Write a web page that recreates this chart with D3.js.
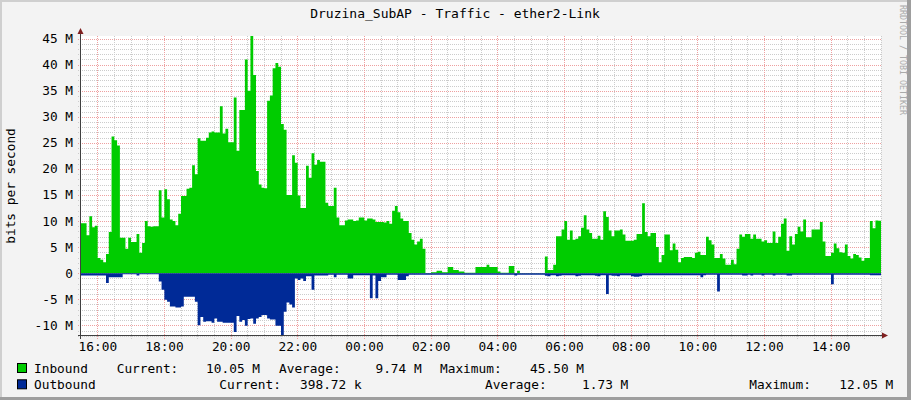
<!DOCTYPE html>
<html><head><meta charset="utf-8">
<script src="https://cdn.jsdelivr.net/npm/d3@7"></script>
<style>
html,body{margin:0;padding:0;background:#f3f3f3;}
text{font-family:"DejaVu Sans Mono",monospace;}
</style></head>
<body>
<svg id="c" width="911" height="400"></svg>
<script>
// ---- data (values in Mbit/s, 5-minute samples, starting 15:30) ----
const title = "Druzina_SubAP - Traffic - ether2-Link";
const yAxisTitle = "bits per second";
const seriesNames = ["Inbound", "Outbound"];
const inbound = [
  9.6,9.6,7.3,10.9,8.8,9.1,2.9,2.6,2.1,3.7,
  7.9,26.2,25.5,24.5,6.8,6.8,4.7,6.8,6.0,6.0,
  7.5,3.9,5.8,10.0,9.0,8.9,9.0,9.0,15.9,10.7,
  16.1,14.2,10.3,10.0,9.2,11.4,14.8,14.8,16.2,16.4,
  20.7,19.0,25.9,25.4,25.4,26.0,27.0,27.2,27.0,27.0,
  32.0,26.8,27.7,25.1,25.1,33.7,23.5,31.3,31.3,41.0,
  35.0,45.5,38.0,19.6,17.0,16.4,16.3,33.1,34.1,39.3,
  40.3,39.6,28.6,27.5,15.0,15.0,22.6,21.2,14.9,12.5,
  12.5,20.6,18.3,23.0,20.8,21.7,21.4,21.4,13.5,12.9,
  12.9,16.4,10.7,9.2,9.2,10.1,10.3,10.3,10.0,10.1,
  10.7,10.7,10.1,10.5,10.5,10.3,9.8,9.8,9.8,9.7,
  10.0,9.5,12.0,12.9,11.7,10.5,10.0,10.0,7.7,6.4,
  5.5,6.1,6.6,4.7,0.05,0.05,0.2,0.2,0.45,0.45,
  0.2,0.2,1.2,1.2,0.6,0.6,0.3,0.3,0.1,0.1,
  0.1,0.1,1.2,1.2,1.2,1.2,1.6,1.2,1.2,1.2,
  0.3,0.1,0.1,0.1,1.4,1.4,0.05,0.45,0.05,0.05,
  0.05,0.05,0.05,0.05,0.05,0.05,0.05,3.2,0.6,0.6,
  1.6,7.1,7.1,8.4,10.0,6.4,8.2,6.4,6.6,7.1,
  8.7,11.1,8.4,7.7,6.6,6.6,7.2,6.4,11.9,10.8,
  8.2,7.1,8.2,8.2,8.4,7.4,6.2,6.2,6.2,6.4,
  7.5,7.5,13.4,7.9,7.1,7.7,7.7,5.0,2.1,3.5,
  7.4,7.4,4.4,5.7,4.5,2.1,2.9,3.1,3.1,3.1,
  2.9,3.9,4.1,3.5,3.5,7.0,6.3,5.5,2.9,2.9,
  3.7,2.8,1.6,1.6,2.6,1.7,4.7,7.4,7.0,7.5,
  7.5,6.6,7.4,6.6,6.6,6.1,6.3,5.8,5.8,8.0,
  5.8,7.0,9.5,10.5,4.3,7.1,5.5,7.5,8.9,8.0,
  10.3,6.9,6.9,8.4,8.4,8.4,9.8,6.1,3.3,3.3,
  3.9,5.7,4.8,4.0,3.9,5.5,3.3,2.8,3.7,3.5,
  3.0,2.4,2.9,2.9,10.0,8.6,10.1,10.05
];
const outbound = [
  0.45,0.45,0.45,0.45,0.45,0.45,0.45,0.45,0.45,1.9,
  0.8,0.8,0.8,0.8,0.8,0.2,0.2,0.2,0.2,0.2,
  0.45,0.2,0.2,0.2,0.2,0.2,0.2,0.2,1.6,3.2,
  5.1,5.5,6.4,6.4,6.6,6.6,6.4,4.5,4.5,4.5,
  4.5,5.5,10.0,8.4,9.3,9.2,9.2,9.5,8.7,9.3,
  9.3,9.5,9.5,9.5,9.5,11.3,8.2,9.3,9.0,10.1,
  8.8,8.7,9.7,8.7,8.4,8.0,8.0,8.7,8.9,8.9,
  10.1,10.1,12.05,7.4,5.6,6.0,6.6,1.0,1.3,1.0,
  1.5,0.6,0.6,3.2,0.45,0.45,0.45,0.45,0.45,0.3,
  0.3,0.8,0.3,0.3,0.3,0.3,1.0,1.0,0.4,0.4,
  0.4,0.4,0.4,0.4,4.8,0.45,4.8,1.5,0.8,0.8,
  0.3,0.3,0.3,0.3,1.3,1.3,1.3,0.6,0.3,0.3,
  0.3,0.3,0.3,0.3,0.3,0.3,0.3,0.3,0.3,0.3,
  0.3,0.3,0.3,0.3,0.3,0.3,0.3,0.3,0.3,0.3,
  0.3,0.3,0.3,0.3,0.3,0.3,0.3,0.3,0.3,0.3,
  0.3,0.3,0.3,0.3,0.3,0.3,0.45,0.3,0.3,0.3,
  0.3,0.3,0.3,0.3,0.3,0.3,0.3,0.5,0.6,0.4,
  0.4,0.6,0.5,0.4,0.4,0.4,0.4,0.4,0.6,0.5,
  0.4,0.4,0.4,0.4,0.4,0.5,0.6,0.4,0.4,4.0,
  0.4,0.5,0.5,0.6,0.4,0.4,0.4,0.4,0.6,0.7,
  0.7,0.6,0.4,0.4,0.4,0.4,0.4,0.4,0.4,0.4,
  0.4,0.4,0.4,0.4,0.4,0.4,0.4,0.4,0.4,0.4,
  0.4,0.4,0.4,0.8,0.4,0.3,0.3,0.3,0.3,3.5,
  0.3,0.3,0.3,0.3,0.3,0.3,0.3,0.3,0.45,0.45,
  0.3,0.45,0.3,0.3,0.3,0.45,0.3,0.3,0.3,0.45,
  0.3,0.3,0.3,0.3,0.45,0.45,0.3,0.3,0.3,0.3,
  0.3,0.3,0.3,0.3,0.3,0.3,0.3,0.3,0.3,0.3,
  2.1,0.3,0.3,0.3,0.3,0.3,0.3,0.3,0.3,0.3,
  0.3,0.3,0.3,0.3,0.4,0.4,0.4,0.39872
];
const yMajorTicks = [-10,-5,0,5,10,15,20,25,30,35,40,45];
const legendRows = [
  {name:"Inbound",  color:"#00cc00", current:"10.05 M",  average:"9.74 M", maximum:"45.50 M"},
  {name:"Outbound", color:"#002a97", current:"398.72 k", average:"1.73 M", maximum:"12.05 M"}
];
const watermark = "RRDTOOL / TOBI OETIKER";

// ---- drawing ----
const svg = d3.select("#c");
const W = 911, H = 400;
const L = 81, R = 881, T = 36, B = 336;
const stepMs = 300000;
const t0 = Date.UTC(2020,0,1,15,30,36);
const t1 = t0 + inbound.length * stepMs;
const x = d3.scaleUtc().domain([t0, t1]).range([L, R]);
const y = d3.scaleLinear().domain([-12.05, 45.5]).range([B, T]);

// background & frame shades
svg.append("rect").attr("width",W).attr("height",H).attr("fill","#f3f3f3");
svg.append("rect").attr("x",0).attr("y",0).attr("width",W).attr("height",2).attr("fill","#cfcfcf");
svg.append("rect").attr("x",0).attr("y",0).attr("width",2).attr("height",H).attr("fill","#cfcfcf");
svg.append("rect").attr("x",W-4).attr("y",0).attr("width",4).attr("height",H).attr("fill","#9e9e9e");
svg.append("rect").attr("x",0).attr("y",H-3).attr("width",W).attr("height",3).attr("fill","#9e9e9e");

// canvas
svg.append("rect").attr("x",L).attr("y",T).attr("width",R-L).attr("height",B-T).attr("fill","#ffffff");

const grid = svg.append("g");
// horizontal minor grid (1M)
const yMinor = d3.range(-12, 46, 1).filter(v => v % 5 !== 0);
grid.selectAll("line.hm").data(yMinor).join("line")
  .attr("x1",L-3).attr("x2",R).attr("y1",d=>Math.round(y(d))+0.5).attr("y2",d=>Math.round(y(d))+0.5)
  .attr("stroke","#cccccc").attr("stroke-dasharray","1,1");
grid.selectAll("line.hM").data(yMajorTicks).join("line")
  .attr("x1",L-3).attr("x2",R).attr("y1",d=>Math.round(y(d))+0.5).attr("y2",d=>Math.round(y(d))+0.5)
  .attr("stroke","#eea0a0").attr("stroke-dasharray","1,1");
// vertical grid
const vMinor = d3.utcMinute.every(30).range(new Date(t0), new Date(t1)).filter(d => !(d.getUTCMinutes()===0 && d.getUTCHours()%2===0));
const vMajor = d3.utcHour.every(2).range(new Date(t0), new Date(t1));
grid.selectAll("line.vm").data(vMinor).join("line")
  .attr("x1",d=>Math.round(x(d))+0.5).attr("x2",d=>Math.round(x(d))+0.5).attr("y1",T).attr("y2",B+3)
  .attr("stroke","#cccccc").attr("stroke-dasharray","1,1");
grid.selectAll("line.vM").data(vMajor).join("line")
  .attr("x1",d=>Math.round(x(d))+0.5).attr("x2",d=>Math.round(x(d))+0.5).attr("y1",T).attr("y2",B+3)
  .attr("stroke","#eea0a0").attr("stroke-dasharray","1,1");

// areas
const pts = (arr, sign) => {
  const p = arr.map((v,i)=>({t:t0+i*stepMs, v:sign*v}));
  p.push({t:t1, v:sign*arr[arr.length-1]});
  return p;
};
const area = d3.area().curve(d3.curveStepAfter).x(d=>x(d.t)).y0(y(0)).y1(d=>y(d.v));
svg.append("path").datum(pts(inbound,1)).attr("d",area).attr("fill",legendRows[0].color);
svg.append("path").datum(pts(outbound,-1)).attr("d",area).attr("fill",legendRows[1].color);

// axes
svg.append("line").attr("x1",L-0.5).attr("x2",L-0.5).attr("y1",30).attr("y2",B+3).attr("stroke","#404040");
svg.append("line").attr("x1",L-3).attr("x2",R+4).attr("y1",B-0.5).attr("y2",B-0.5).attr("stroke","#404040");
svg.append("path").attr("d",`M${L-3.5},34 L${L+2.5},34 L${L-0.5},28 Z`).attr("fill","#7f1f1f");
svg.append("path").attr("d",`M${R+1},${B-3.5} L${R+1},${B+2.5} L${R+7},${B-0.5} Z`).attr("fill","#7f1f1f");

// y labels
svg.append("g").selectAll("text").data(yMajorTicks).join("text")
  .attr("x",73).attr("y",d=>y(d)+4.5).attr("text-anchor","end")
  .attr("font-size","12.8px").attr("fill","#000")
  .text(d => d===0 ? "0" : d + " M");
// x labels
svg.append("g").selectAll("text").data(vMajor).join("text")
  .attr("x",d=>x(d)+0.5).attr("y",350.5).attr("text-anchor","middle")
  .attr("font-size","12.8px").attr("fill","#000")
  .text(d3.utcFormat("%H:%M"));

// title
svg.append("text").attr("x",455).attr("y",18).attr("text-anchor","middle")
  .attr("font-size","13px").text(title);
// y axis title
svg.append("text").attr("transform","translate(15,186) rotate(-90)").attr("text-anchor","middle")
  .attr("font-size","12.8px").text(yAxisTitle);
// watermark
svg.append("text").attr("transform","translate(900,60) rotate(90)").attr("text-anchor","middle")
  .attr("font-size","8.3px").attr("fill","#aaaaaa").text(watermark);

// legend
const lg = svg.append("g").attr("font-size","12.8px");
const rowY = [372.7, 389];
const cols = [
  {lab:[116.7, 219.3], val:[260, 361.7], key:"current", txt:"Current:"},
  {lab:[279, 485],     val:[421.7, 628.3], key:"average", txt:"Average:"},
  {lab:[440, 749.3],   val:[584, 893.3], key:"maximum", txt:"Maximum:"}
];
legendRows.forEach((r,i)=>{
  const yy = rowY[i];
  lg.append("rect").attr("x",17.5).attr("y",yy-9.2).attr("width",9).attr("height",9)
    .attr("fill",r.color).attr("stroke","#000");
  lg.append("text").attr("x",34).attr("y",yy).text(r.name);
  cols.forEach(c=>{
    lg.append("text").attr("x",c.lab[i]).attr("y",yy).text(c.txt);
    lg.append("text").attr("x",c.val[i]).attr("y",yy).attr("text-anchor","end").text(r[c.key]);
  });
});
</script>
</body></html>
